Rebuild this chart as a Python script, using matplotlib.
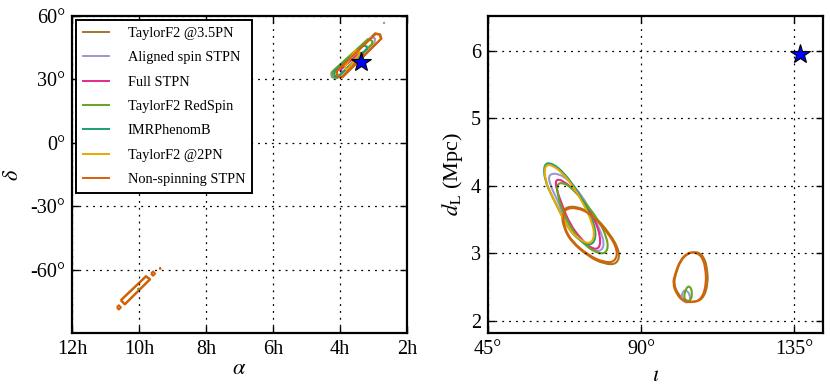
import numpy as np
import matplotlib
matplotlib.use("Agg")
import matplotlib.pyplot as plt
from matplotlib.path import Path
from matplotlib.patches import PathPatch

plt.rcParams['font.family'] = ['Liberation Serif', 'DejaVu Serif']
plt.rcParams['mathtext.fontset'] = 'stix'

# series names and colours (Dark2 style)
labels = ['TaylorF2 @3.5PN', 'Aligned spin STPN', 'Full STPN', 'TaylorF2 RedSpin',
          'IMRPhenomB', 'TaylorF2 @2PN', 'Non-spinning STPN']
colors = ['#a6761d', '#9d99cf', '#e7298a', '#66a61e', '#1b9e77', '#e6ab02', '#d95f02']

# injected values
star_sky = (3.37, 38.3)      # alpha [h], delta [deg]
star_dist = (136.8, 5.95)    # iota [deg], d_L [Mpc]

# ---- sky contours (alpha in hours, delta in degrees)
sky_brown = [([4.10, 2.95, 2.80, 2.76, 3.92, 4.05], [33.8, 51.8, 51.3, 49.3, 31.0, 31.0]),
             ([10.54, 9.79, 9.67, 10.42], [-74.4, -63.1, -64.5, -76.3])]
sky_purple = [([4.27, 3.05, 2.95, 2.97, 4.10, 4.24], [33.0, 50.0, 49.3, 47.5, 30.5, 31.0]),
              ([2.70, 2.68, 2.68], [56.9, 56.8, 56.6])]
sky_pink = [([3.98, 3.42, 3.32, 3.30, 3.92, 3.98], [34.5, 42.5, 42.6, 41.0, 33.5, 33.8])]
sky_green = [([4.24, 3.16, 3.04, 3.04, 4.09, 4.21], [33.5, 49.1, 48.2, 46.8, 30.7, 31.2]),
             ([10.04, 10.00, 10.00], [-69.2, -69.0, -69.4])]
sky_teal = [([4.18, 3.30, 3.20, 3.20, 4.05, 4.15], [33.4, 46.0, 45.6, 44.3, 31.2, 31.5])]
sky_yellow = [([3.85, 3.55, 3.45, 3.42, 3.75, 3.83], [36.0, 43.5, 43.8, 42.0, 35.0, 34.8])]
sky_orange = [([4.12, 2.93, 2.81, 2.78, 3.94, 4.06], [33.5, 51.5, 51.0, 49.1, 31.2, 31.2]),
              ([10.54, 9.79, 9.67, 10.42], [-74.6, -63.3, -64.7, -76.5]),
              ([10.66, 10.60, 10.54, 10.60], [-77.9, -76.9, -77.9, -78.9]),
              ([9.64, 9.58, 9.52, 9.58], [-61.9, -60.9, -61.9, -62.9]),
              ([9.39, 9.36, 9.36], [-59.4, -59.3, -59.6])]
sky_sets = [sky_brown, sky_purple, sky_pink, sky_green, sky_teal, sky_yellow, sky_orange]

# ---- distance / inclination contours (iota in degrees, d_L in Mpc)
dist_brown = [([67.5, 71.0, 75.6, 80.8, 83.8, 83.0, 79.3, 74.6, 69.3, 67.2, 66.7],
               [3.68, 3.70, 3.59, 3.30, 3.02, 2.84, 2.84, 2.95, 3.18, 3.39, 3.56]),
              ([105.6, 103.8, 101.7, 100.2, 99.6, 100.8, 102.6, 105.6, 108.3, 109.7, 109.4, 108.5, 107.1],
               [3.02, 3.00, 2.90, 2.70, 2.55, 2.40, 2.31, 2.27, 2.33, 2.55, 2.79, 2.94, 3.01])]
dist_purple = [([62.8, 63.1, 65.6, 67.5, 71.5, 75.0, 77.9, 79.3, 78.0, 75.6, 72.7, 68.7, 65.4],
                [4.17, 4.03, 3.77, 3.52, 3.26, 3.06, 3.02, 3.13, 3.34, 3.59, 3.85, 4.09, 4.19]),
               ([102.4, 101.8, 102.6, 104.4, 104.4, 103.2],
                [2.44, 2.36, 2.27, 2.28, 2.39, 2.46])]
dist_pink = [([64.8, 65.1, 67.0, 69.0, 72.5, 75.8, 77.9, 78.0, 76.6, 74.1, 70.7, 67.1],
              [4.10, 3.95, 3.69, 3.44, 3.20, 3.06, 3.08, 3.26, 3.47, 3.70, 3.92, 4.08])]
dist_green = [([65.2, 65.6, 67.0, 69.5, 73.5, 78.2, 80.3, 80.0, 77.1, 73.6, 69.7, 67.0],
               [4.03, 3.83, 3.62, 3.36, 3.11, 2.98, 3.04, 3.24, 3.52, 3.75, 3.97, 4.05]),
              ([103.8, 102.9, 102.6, 103.5, 104.7, 105.0, 104.7],
               [2.52, 2.44, 2.34, 2.28, 2.31, 2.40, 2.49])]
dist_teal = [([61.4, 61.6, 63.9, 66.4, 68.7, 71.9, 75.2, 76.8, 76.2, 74.0, 70.9, 67.6, 63.9],
              [4.33, 4.09, 3.84, 3.59, 3.36, 3.19, 3.11, 3.23, 3.44, 3.68, 3.95, 4.18, 4.34])]
dist_yellow = [([61.6, 61.8, 64.1, 66.5, 68.5, 71.7, 75.0, 76.4, 75.6, 73.5, 70.6, 67.3, 64.0],
                [4.31, 4.07, 3.82, 3.58, 3.37, 3.21, 3.13, 3.26, 3.46, 3.69, 3.95, 4.17, 4.31])]
dist_orange = [([67.7, 71.1, 75.4, 80.4, 83.2, 82.3, 78.9, 74.6, 69.6, 67.5, 67.0],
                [3.66, 3.68, 3.58, 3.30, 3.04, 2.87, 2.87, 2.97, 3.18, 3.38, 3.54]),
               ([105.3, 103.5, 101.5, 100.0, 99.3, 100.5, 102.4, 105.3, 107.9, 109.2, 108.9, 108.0, 106.6],
                [3.02, 3.00, 2.90, 2.70, 2.55, 2.39, 2.29, 2.27, 2.33, 2.55, 2.79, 2.94, 3.00])]
dist_sets = [dist_brown, dist_purple, dist_pink, dist_green, dist_teal, dist_yellow, dist_orange]

sky_xticks = [12, 10, 8, 6, 4, 2]
sky_yticks = [-60, -30, 0, 30, 60]
dist_xticks = [45, 90, 135]
dist_yticks = [2, 3, 4, 5, 6]


def contour_patch(xs, ys, col, smooth):
    pts = np.column_stack([xs, ys])
    if not smooth:
        verts = np.vstack([pts, pts[:1]])
        codes = [Path.MOVETO] + [Path.LINETO] * len(pts)
    else:
        # closed quadratic bezier: read points act as control points
        mids = 0.5 * (pts + np.roll(pts, -1, axis=0))
        verts = [mids[-1]]
        codes = [Path.MOVETO]
        for p, m in zip(pts, mids):
            verts += [p, m]
            codes += [Path.CURVE3, Path.CURVE3]
        verts = np.array(verts)
    return PathPatch(Path(verts, codes), facecolor='none', edgecolor=col,
                     lw=1.5, joinstyle='round')


def style_axes(ax):
    ax.tick_params(direction='in', top=True, right=True, length=5, width=1,
                   labelsize=14.5, pad=5)
    for sp in ax.spines.values():
        sp.set_linewidth(1.6)
    ax.grid(True, color='black', linestyle=(0, (1.5, 4)), linewidth=0.9)


fig = plt.figure(figsize=(8.3, 3.89), dpi=100)
ax1 = fig.add_axes([0.0867, 0.144, 0.4036, 0.815])
ax2 = fig.add_axes([0.588, 0.144, 0.4036, 0.815])

# left: sky position
handles = []
for lab, col, parts in zip(labels, colors, sky_sets):
    for xs, ys in parts:
        ax1.add_patch(contour_patch(xs, ys, col, smooth=False))
    h, = ax1.plot([], [], color=col, lw=1.4, label=lab)
    handles.append(h)
ax1.plot(*star_sky, marker='*', ms=15, mfc='blue', mec='black', mew=0.8, ls='none')
ax1.set_xlim(12, 2)
ax1.set_ylim(-90, 60)
ax1.set_xticks(sky_xticks)
ax1.set_xticklabels(['%dh' % v for v in sky_xticks])
ax1.set_yticks(sky_yticks)
ax1.set_yticklabels(['%d°' % v for v in sky_yticks])
ax1.set_xlabel(r'$\alpha$', fontsize=16, labelpad=1)
ax1.set_ylabel(r'$\delta$', fontsize=16, labelpad=5)
style_axes(ax1)
leg = ax1.legend(handles=handles, loc='upper left', fontsize=10.4, borderaxespad=0.25,
                 handlelength=1.8, handletextpad=1.3, labelspacing=0.78,
                 borderpad=0.5, fancybox=False, framealpha=1)
leg.get_frame().set_edgecolor('black')
leg.get_frame().set_linewidth(1.4)

# right: distance vs inclination
for lab, col, parts in zip(labels, colors, dist_sets):
    for xs, ys in parts:
        ax2.add_patch(contour_patch(xs, ys, col, smooth=True))
ax2.plot(*star_dist, marker='*', ms=15, mfc='blue', mec='black', mew=0.8, ls='none')
ax2.set_xlim(45, 143.5)
ax2.set_ylim(1.82, 6.52)
ax2.set_xticks(dist_xticks)
ax2.set_xticklabels(['%d°' % v for v in dist_xticks])
ax2.set_yticks(dist_yticks)
ax2.set_xlabel(r'$\iota$', fontsize=16, labelpad=6)
ax2.set_ylabel(r'$d_{\rm L}$ (Mpc)', fontsize=16, labelpad=4)
style_axes(ax2)

fig.savefig('out.png', dpi=100)
